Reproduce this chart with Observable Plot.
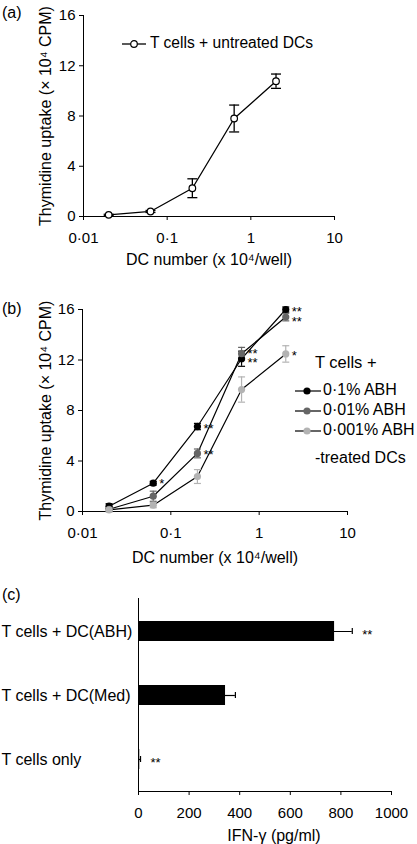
<!DOCTYPE html>
<html><head><meta charset="utf-8">
<script src="https://cdn.jsdelivr.net/npm/d3@7"></script>
<script src="https://cdn.jsdelivr.net/npm/@observablehq/plot@0.6"></script>
<style>
body{margin:0;background:#fff;}
#root{position:relative;width:417px;height:844px;font-family:"Liberation Sans",Arial,sans-serif;color:#000;overflow:hidden;background:#fff}
#root svg.panel{position:absolute;left:0}
.lbl{position:absolute;font-size:16px;line-height:16px;white-space:nowrap}
.lbl svg{vertical-align:middle}
</style></head><body><div id="root"></div>
<script>
// ---------- data ----------
const doseX = [0.02, 0.0632, 0.2, 0.632, 2];
const xTicks = [0.01, 0.1, 1, 10];
const yTicksAB = [0, 4, 8, 12, 16];

// panel (a)
const untreatedY   = [0.13, 0.40, 2.25, 7.80, 10.77];
const untreatedErr = [0.05, 0.08, 0.75, 1.07, 0.57];

// panel (b)
const seriesNames  = ["0·1% ABH", "0·01% ABH", "0·001% ABH"];
const seriesColors = ["#000000", "#666666", "#b3b3b3"];
const abh01Y    = [0.42, 2.24, 6.73, 12.10, 16.00];
const abh01Err  = [0.20, 0.15, 0.25, 0.60, 0.20];
const abh001Y   = [0.18, 1.21, 4.60, 12.50, 15.40];
const abh001Err = [0.20, 0.40, 0.35, 0.50, 0.30];
const abh0001Y  = [0.13, 0.50, 2.77, 9.66, 12.48];
const abh0001Err= [0.10, 0.20, 0.55, 1.00, 0.65];
// significance marks (dose index, level where the marks sit, text)
const sigDose   = [4, 3, 2, 2, 1, 4];
const sigLevel  = [15.56, 12.28, 6.73, 4.67, 2.37, 12.5];
const sigText   = ["**\n**", "**\n**", "**", "**", "*", "*"];

// panel (c)
const cCategories = ["T cells + DC(ABH)", "T cells + DC(Med)", "T cells only"];
const cValues = [775, 344, 5];
const cErr    = [70, 39, 3];
const cSig    = ["**", "", "**"];
const cTicks  = [0, 200, 400, 600, 800, 1000];

// ---------- helpers ----------
const FONT = '"Liberation Sans", Arial, sans-serif';
const fmt = d => String(d).replace(".", "·");
const capSymbol = {draw(ctx, size){ const w = Math.sqrt(size/Math.PI); ctx.moveTo(-w,0); ctx.lineTo(w,0); }};
const root = document.getElementById("root");
function place(svg, top){ svg.classList.add("panel"); svg.style.top = top + "px"; root.appendChild(svg); }
function label(html, left, top, extra){ const d = document.createElement("div"); d.className = "lbl"; d.style.left = left+"px"; d.style.top = top+"px"; if (extra) Object.assign(d.style, extra); d.innerHTML = html; root.appendChild(d); return d; }

const yTitle = "Thymidine uptake (× 10⁴ CPM)";
const xTitle = "DC number (x 10⁴/well)";

// ---------- panel (a) ----------
const aData = doseX.map((x,i)=>({x, y: untreatedY[i], lo: untreatedY[i]-untreatedErr[i], hi: untreatedY[i]+untreatedErr[i]}));
const plotA = Plot.plot({
  width: 417, height: 270,
  marginTop: 15, marginBottom: 54, marginLeft: 83, marginRight: 83,
  style: {fontFamily: FONT, fontSize: "15px", background: "transparent", overflow: "visible"},
  x: {type: "log", domain: [0.01, 10]},
  y: {domain: [0, 16]},
  marks: [
    Plot.axisX({ticks: xTicks, tickFormat: fmt, tickSize: 4, tickPadding: 12, label: null, fontSize: 15}),
    Plot.axisY({ticks: yTicksAB, tickSize: 4, tickPadding: 4, label: null, fontSize: 15}),
    Plot.ruleY([0], {stroke: "#000"}),
    Plot.ruleX([0.01], {stroke: "#000"}),
    Plot.ruleX(aData, {x: "x", y1: "lo", y2: "hi", stroke: "#000", strokeWidth: 1.3}),
    Plot.dot(aData, {x: "x", y: "hi", symbol: capSymbol, r: 5, stroke: "#000", strokeWidth: 1.3}),
    Plot.dot(aData, {x: "x", y: "lo", symbol: capSymbol, r: 5, stroke: "#000", strokeWidth: 1.3}),
    Plot.line(aData, {x: "x", y: "y", stroke: "#000", strokeWidth: 1.3}),
    Plot.dot(aData, {x: "x", y: "y", r: 3.3, fill: "#fff", stroke: "#000", strokeWidth: 1.2}),
    Plot.text([yTitle], {frameAnchor: "left", textAnchor: "middle", lineAnchor: "middle", rotate: -90, dx: -38, fontSize: 16}),
    Plot.text([xTitle], {frameAnchor: "bottom", textAnchor: "middle", lineAnchor: "middle", dy: 43, fontSize: 16})
  ]
});
place(plotA, 0);
label("(a)", 2, 5);
label('<svg width="24" height="10" style="margin-right:4px"><line x1="0" y1="5" x2="24" y2="5" stroke="#000" stroke-width="1.3"/><circle cx="12" cy="5" r="3.3" fill="#fff" stroke="#000" stroke-width="1.2"/></svg>T cells + untreated DCs', 122, 35, {fontSize: "15.6px"});

// ---------- panel (b) ----------
const bYs = [abh01Y, abh001Y, abh0001Y];
const bErrs = [abh01Err, abh001Err, abh0001Err];
const bData = bYs.flatMap((ys, s) => doseX.map((x,i)=>({s, x, y: ys[i], lo: ys[i]-bErrs[s][i], hi: ys[i]+bErrs[s][i]})));
const bSig = sigText.map((t,k)=>({t, x: doseX[sigDose[k]], y: sigLevel[k]}));
const colorOf = d => seriesColors[d.s];
const plotB = Plot.plot({
  width: 417, height: 290,
  marginTop: 29, marginBottom: 59, marginLeft: 82, marginRight: 70,
  style: {fontFamily: FONT, fontSize: "15px", background: "transparent", overflow: "visible"},
  x: {type: "log", domain: [0.01, 10]},
  y: {domain: [0, 16]},
  marks: [
    Plot.axisX({ticks: xTicks, tickFormat: fmt, tickSize: 4, tickPadding: 12, label: null, fontSize: 15}),
    Plot.axisY({ticks: yTicksAB, tickSize: 4, tickPadding: 4, label: null, fontSize: 15}),
    Plot.ruleY([0], {stroke: "#000"}),
    Plot.ruleX([0.01], {stroke: "#000"}),
    Plot.line(bData, {x: "x", y: "y", z: "s", stroke: "#000", strokeWidth: 1.2}),
    Plot.ruleX(bData, {x: "x", y1: "lo", y2: "hi", stroke: colorOf, strokeWidth: 1.2}),
    Plot.dot(bData, {x: "x", y: "hi", symbol: capSymbol, r: 3.5, stroke: colorOf, strokeWidth: 1.2}),
    Plot.dot(bData, {x: "x", y: "lo", symbol: capSymbol, r: 3.5, stroke: colorOf, strokeWidth: 1.2}),
    Plot.dot(bData, {x: "x", y: "y", r: 3.6, fill: colorOf, stroke: "none"}),
    Plot.text(bSig, {x: "x", y: "y", text: "t", textAnchor: "start", lineAnchor: "middle", lineHeight: 0.72, dx: 6, dy: 3, fontSize: 13}),
    Plot.text([yTitle], {frameAnchor: "left", textAnchor: "middle", lineAnchor: "middle", rotate: -90, dx: -37, fontSize: 16}),
    Plot.text([xTitle], {frameAnchor: "bottom", textAnchor: "middle", lineAnchor: "middle", dy: 46, fontSize: 16})
  ]
});
place(plotB, 280);
label("(b)", 2, 301);
label("T cells +", 315, 354, {fontSize: "16.5px"});
seriesNames.forEach((n, k) => {
  const tops = [382, 402, 422];
  label(`<svg width="26" height="10" style="margin-right:2px"><line x1="0" y1="5" x2="26" y2="5" stroke="#000" stroke-width="1.2"/><circle cx="12" cy="5" r="3.6" fill="${seriesColors[k]}"/></svg>${n}`, 295, tops[k]);
});
label("-treated DCs", 315, 450);

// ---------- panel (c) ----------
const cData = cCategories.map((c,i)=>({c, v: cValues[i], lo: cValues[i]-cErr[i], hi: cValues[i]+cErr[i], sig: cSig[i]}));
const plotC = Plot.plot({
  width: 417, height: 259,
  marginTop: 13, marginBottom: 53, marginLeft: 138, marginRight: 26,
  style: {fontFamily: FONT, fontSize: "15px", background: "transparent", overflow: "visible"},
  x: {domain: [0, 1000]},
  y: {domain: cCategories, paddingInner: 0.69, paddingOuter: 0.345},
  marks: [
    Plot.axisX({ticks: cTicks, tickFormat: d => String(d), tickSize: 4, tickPadding: 12, label: null, fontSize: 15}),
    Plot.axisY({ticks: [], tickSize: 0, label: null}),
    Plot.frame({anchor: "bottom"}),
    Plot.ruleX([0], {stroke: "#000"}),
    Plot.ruleY(cData, {y: "c", x1: "lo", x2: "hi", stroke: "#000", strokeWidth: 1.2}),
    Plot.tickX(cData, {y: "c", x: "hi", stroke: "#000", strokeWidth: 1.2, insetTop: 7, insetBottom: 7}),
    Plot.barX(cData, {y: "c", x: "v", fill: "#000"}),
    Plot.text(cData, {y: "c", x: "hi", text: "sig", textAnchor: "start", lineAnchor: "middle", dx: 10, dy: 3, fontSize: 13}),
    Plot.text(cCategories, {y: d => d, text: d => d, frameAnchor: "left", dx: -137, textAnchor: "start", lineAnchor: "middle", fontSize: 16}),
    Plot.text(["IFN-γ (pg/ml)"], {frameAnchor: "bottom", textAnchor: "middle", lineAnchor: "middle", dx: 9, dy: 44, fontSize: 16})
  ]
});
place(plotC, 585);
label("(c)", 2, 587);
</script></body></html>
